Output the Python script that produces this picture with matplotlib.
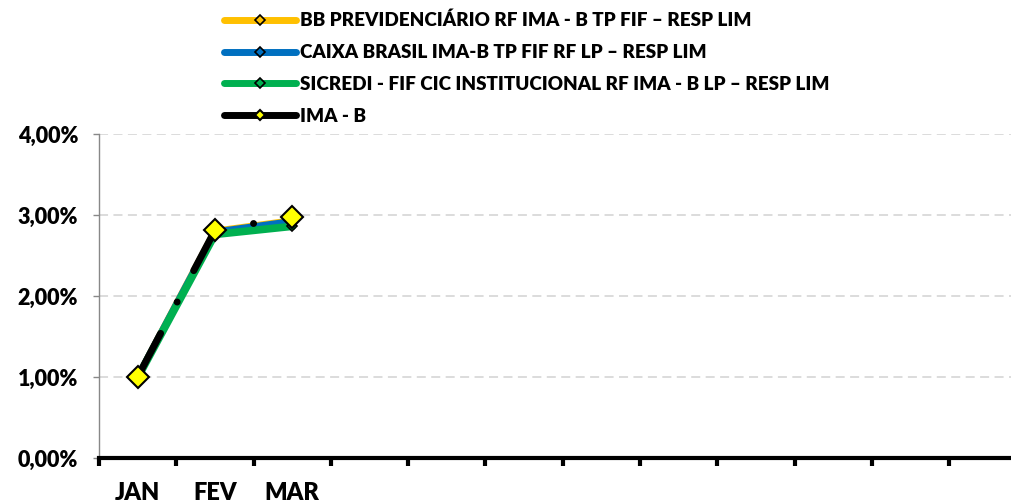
import numpy as np
import matplotlib
matplotlib.use("Agg")
import matplotlib.pyplot as plt

plt.rcParams['font.family'] = ['Lato', 'DejaVu Sans']
plt.rcParams['font.weight'] = 'heavy'

# categorias (12 meses, so 3 preenchidos)
meses = ['JAN', 'FEV', 'MAR', '', '', '', '', '', '', '', '', '']

bb_prev = [1.00, 2.80, 2.93]
caixa = [1.00, 2.79, 2.92]
sicredi = [0.99, 2.76, 2.86]
ima_b = [1.00, 2.81, 2.98]

nomes = ['BB PREVIDENCIÁRIO RF IMA - B TP FIF – RESP LIM',
         'CAIXA BRASIL IMA-B TP FIF RF LP – RESP LIM',
         'SICREDI - FIF CIC INSTITUCIONAL RF IMA - B LP – RESP LIM',
         'IMA - B']

fig = plt.figure(figsize=(10.11, 5), dpi=100)
ax = fig.add_axes([99/1011, 1-458/500, 1-99/1011, (458-134)/500])

x = np.arange(len(bb_prev))
l1, = ax.plot(x, bb_prev, color='#FFC000', lw=5, marker='D', ms=5,
              mfc='#FFC000', mec='black', mew=1.2, solid_capstyle='round', zorder=3)
l2, = ax.plot(x, caixa, color='#0070C0', lw=5, marker='D', ms=5,
              mfc='#0070C0', mec='black', mew=1.2, solid_capstyle='round', zorder=4)
l3, = ax.plot(x, sicredi, color='#00B050', lw=5.5, marker='D', ms=5,
              mfc='#00B050', mec='black', mew=1.2, solid_capstyle='round', zorder=5)
l4, = ax.plot(x, ima_b, color='black', lw=5, marker='D', ms=11,
              mfc='#FFFF00', mec='black', mew=1.5,
              linestyle=(0, (7.1, 5.1, 0.01, 5.1)), dash_capstyle='round', zorder=6)

ax.set_xlim(-0.5, 11.3)
ax.set_ylim(0, 4)
ax.set_yticks([0, 1, 2, 3, 4])
ax.set_yticklabels(['0,00%', '1,00%', '2,00%', '3,00%', '4,00%'])
ax.set_xticks(np.arange(len(meses)))
ax.set_xticklabels(meses)
ax.set_xticks(np.arange(len(meses)) - 0.5, minor=True)

ax.tick_params(axis='x', which='major', length=0, pad=17, labelsize=17)
ax.tick_params(axis='x', which='minor', length=6, width=3, color='black', direction='out')
ax.tick_params(axis='y', length=4, width=1, color='#888888', pad=11, labelsize=15.5)

ax.grid(axis='y', color='#D9D9D9', lw=1.3, linestyle=(0, (5, 3)))
ax.set_axisbelow(True)
for s in ['top', 'right']:
    ax.spines[s].set_visible(False)
ax.spines['left'].set_color('#888888')
ax.spines['left'].set_linewidth(1)
ax.spines['bottom'].set_color('black')
ax.spines['bottom'].set_linewidth(3)
ax.spines['bottom'].set_zorder(7)

leg = fig.legend([l1, l2, l3, l4], nomes, loc='upper left',
                 bbox_to_anchor=(224/1011, 0.976), frameon=False, fontsize=13.6,
                 handlelength=3.8, handletextpad=0.2, labelspacing=0.78,
                 borderpad=0, borderaxespad=0)
for h in leg.legend_handles:
    h.set_markersize(5)
    h.set_linestyle('-')
    h.set_linewidth(5)
    h.set_solid_capstyle('round')

fig.savefig('out.png', dpi=100)
